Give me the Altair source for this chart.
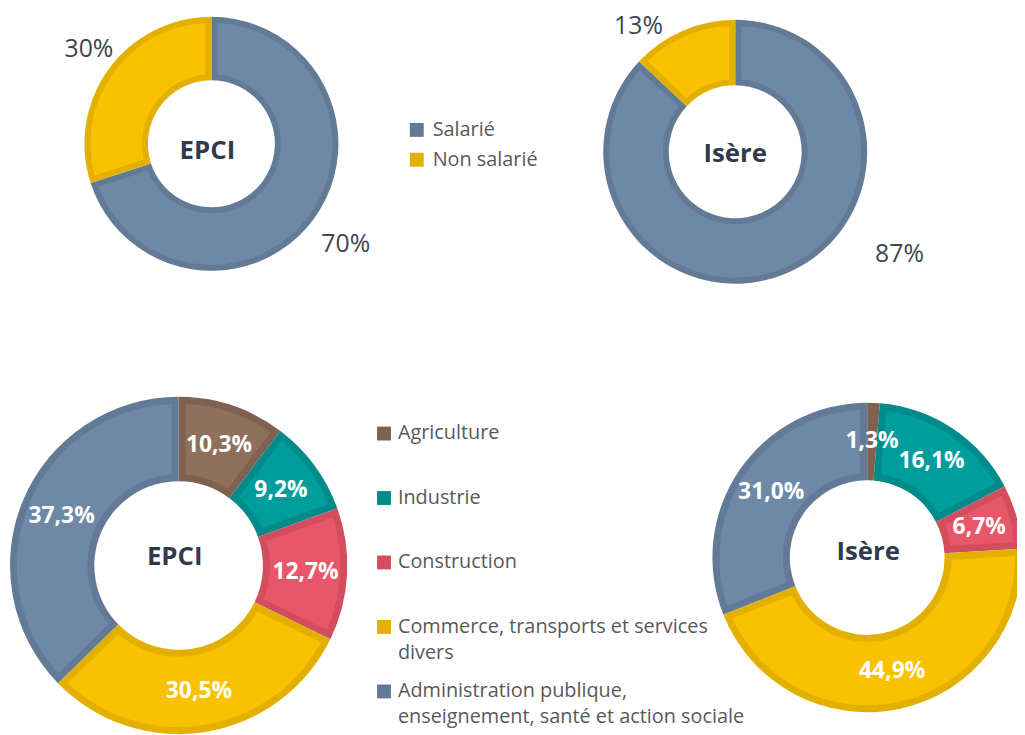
import altair as alt
import pandas as pd

# ---------------- data ----------------
statut_cats = ["Salarié", "Non salarié"]
statut_epci = [70, 30]
statut_isere = [87, 13]

secteur_cats = [
    "Agriculture",
    "Industrie",
    "Construction",
    "Commerce, transports et services divers",
    "Administration publique, enseignement, santé et action sociale",
]
secteur_epci = [10.3, 9.2, 12.7, 30.5, 37.3]
secteur_isere = [1.3, 16.1, 6.7, 44.9, 31.0]

territoires = ["EPCI", "Isère"]

# ---------------- styles ----------------
statut_border = ["#627A95", "#E3B000"]
statut_fill = ["#6D89A6", "#FAC100"]
secteur_border = ["#7E6150", "#008B8B", "#D24E5F", "#E3B000", "#627A95"]
secteur_fill = ["#8E705C", "#009D9D", "#E8566A", "#FAC100", "#6D89A6"]

FONT = "Open Sans"
THETA_SCALE = alt.Scale(domain=[0, 100])


def frame(cats, vals):
    return pd.DataFrame({"cat": cats, "val": vals, "idx": list(range(len(cats)))})


def rings(df, cx, cy, ro, ri, inset, domain, border, fill, legend):
    base = alt.Chart(df).encode(
        theta=alt.Theta("val:Q", stack=True, scale=THETA_SCALE),
        order=alt.Order("idx:Q"),
    )
    dark = base.mark_arc(x=cx, y=cy, radius=ro, radius2=ri, strokeWidth=0).encode(
        color=alt.Color("cat:N", scale=alt.Scale(domain=domain, range=border), legend=legend)
    )
    pr = ((ri + inset) ** 2 + (ro - inset) ** 2) ** 0.5
    light = base.mark_arc(
        x=cx, y=cy, radius=ro - inset, radius2=ri + inset, padAngle=2 * inset / pr, strokeWidth=0
    ).encode(fill=alt.Fill("cat:N", scale=alt.Scale(domain=domain, range=fill), legend=None))
    return [dark, light]


def labels(df, cx, cy, r, fmt, color, size, weight, offsets=None):
    base = (
        alt.Chart(df)
        .transform_window(cum="sum(val)", sort=[alt.SortField("idx")], frame=[None, 0])
        .transform_calculate(mid="datum.cum - datum.val / 2", lab=fmt)
        .encode(
            theta=alt.Theta("mid:Q", stack=None, scale=THETA_SCALE),
            text="lab:N",
        )
    )
    style = dict(x=cx, y=cy, radius=r, font=FONT, fontSize=size, fontWeight=weight,
                 color=color, align="center", baseline="middle")
    if offsets is None:
        return [base.mark_text(**style)]
    out = []
    for cat, (dx, dy) in offsets.items():
        out.append(base.mark_text(dx=dx, dy=dy, **style).transform_filter(alt.datum.cat == cat))
    return out


def center(name, x, y):
    return (
        alt.Chart(pd.DataFrame({"nom": [name]}))
        .mark_text(x=x, y=y, font=FONT, fontSize=26, fontWeight="bold", color="#2F3B4C",
                   align="center", baseline="middle")
        .encode(text="nom:N")
    )


top_legend = alt.Legend(
    title=None, orient="none", legendX=402, legendY=110,
    symbolType="square", symbolSize=196, symbolStrokeWidth=0,
    labelFontSize=20, labelColor="#595959", labelFont=FONT, labelOffset=6,
    rowPadding=10, padding=0, labelLimit=500,
)
bottom_legend = alt.Legend(
    title=None, orient="none", legendX=369, legendY=416,
    symbolType="square", symbolSize=196, symbolStrokeWidth=0,
    labelFontSize=20, labelColor="#595959", labelFont=FONT, labelOffset=4,
    rowPadding=19, padding=0, labelLimit=500, gridAlign="all",
    labelBaseline="middle",
    labelExpr="split(replace(replace(datum.label, 'services ', 'services|'), 'publique, ', 'publique,|'), '|')",
)

fmt_int = "format(datum.val, 'd') + '%'"
fmt_dec = "replace(format(datum.val, '.1f'), '.', ',') + '%'"

d_se = frame(statut_cats, statut_epci)
d_si = frame(statut_cats, statut_isere)
d_ce = frame(secteur_cats, secteur_epci)
d_ci = frame(secteur_cats, secteur_isere)

top_layers = (
    rings(d_se, 205, 134, 128, 64, 6, statut_cats, statut_border, statut_fill, top_legend)
    + rings(d_si, 733, 142, 133, 67, 6, statut_cats, statut_border, statut_fill, top_legend)
    + labels(d_se, 205, 134, 160, fmt_int, "#404552", 25, "normal",
             {"Salarié": (6, 7), "Non salarié": (6, -1)})
    + labels(d_si, 733, 142, 160, fmt_int, "#404552", 25, "normal",
             {"Salarié": (102, -44), "Non salarié": (-34, 20)})
    + [center(territoires[0], 201, 141), center(territoires[1], 733, 144)]
)

bottom_layers = (
    rings(d_ce, 172, 559, 170, 85, 7, secteur_cats, secteur_border, secteur_fill, bottom_legend)
    + rings(d_ci, 866, 551, 156, 78, 7, secteur_cats, secteur_border, secteur_fill, bottom_legend)
    + labels(d_ce, 172, 559, 128, fmt_dec, "#FFFFFF", 23, "bold")
    + labels(d_ci, 866, 551, 117, fmt_dec, "#FFFFFF", 23, "bold")
    + [center(territoires[0], 168, 551), center(territoires[1], 867, 545)]
)

chart = (
    alt.layer(alt.layer(*top_layers), alt.layer(*bottom_layers))
    .resolve_scale(color="independent", fill="independent")
    .properties(width=1017, height=727, autosize=alt.AutoSizeParams(type="none"), padding=0)
    .configure(font=FONT, style={"guide-label": {"lineHeight": 26}})
    .configure_view(stroke=None)
)

chart.save("out.html", embed_options={"renderer": "svg", "actions": False})
